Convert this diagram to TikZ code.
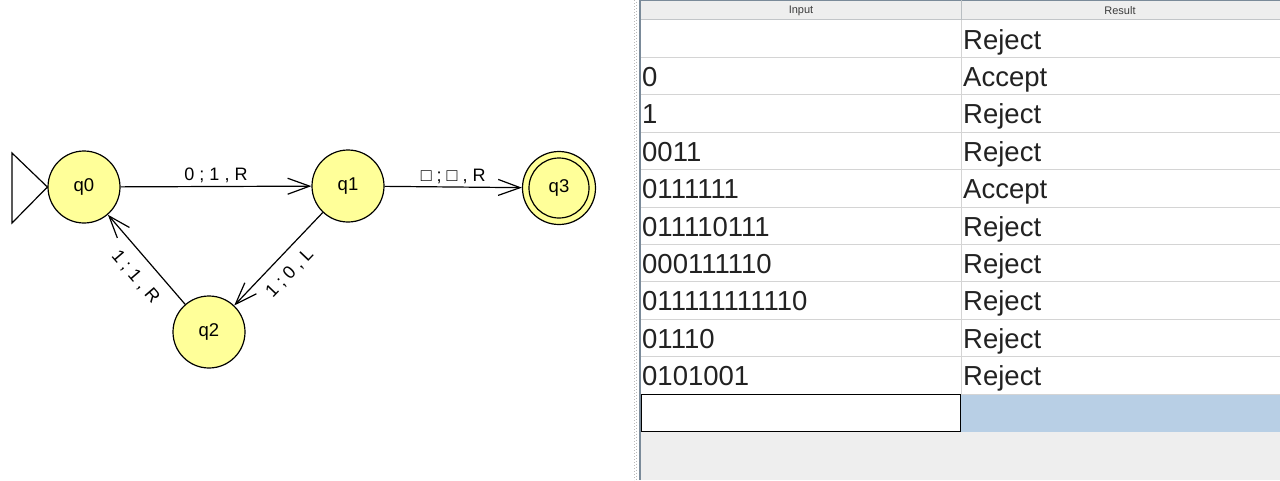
\documentclass[tikz,border=0pt]{standalone}
\usepackage{fontspec}
\setmainfont{Liberation Sans}
\usetikzlibrary{arrows.meta}
\definecolor{stfill}{RGB}{255,255,153}
\definecolor{panelgray}{RGB}{238,238,238}
\definecolor{frameblue}{RGB}{122,138,153}
\definecolor{gridgray}{RGB}{212,212,212}
\definecolor{hdrtext}{RGB}{60,60,60}
\definecolor{celltext}{RGB}{34,34,34}
\definecolor{selblue}{RGB}{184,207,229}
\definecolor{dotgray}{RGB}{185,185,185}
\begin{document}
\begin{tikzpicture}[x=1pt,y=-1pt,
  state/.style={circle, draw=black, line width=1.2pt, fill=stfill,
    minimum size=72pt, inner sep=0pt, font=\fontsize{18.5}{20}\selectfont},
  trans/.style={draw=black, line width=1.2pt,
    -{Straight Barb[length=22pt,width=16pt,line width=1.2pt]}},
  elabel/.style={font=\fontsize{18}{20}\selectfont, inner sep=3pt},
  hdr/.style={font=\fontsize{11}{12}\selectfont, text=hdrtext, inner sep=0pt},
  cell/.style={font=\fontsize{27.5}{30}\selectfont, text=celltext,
    inner sep=0pt, anchor=base west},
  gridline/.style={draw=gridgray, line width=1pt}]
\useasboundingbox (0,0) rectangle (1280,480);
\fill[white] (0,0) rectangle (1280,480);

% ---------- Turing machine ----------
\node[state] (q0) at (84,187) {q0};
\node[state] (q1) at (348,186) {q1};
\node[state] (q2) at (209,332) {q2};
\node[state, minimum size=73pt] (q3) at (559,188) {q3};
\draw[line width=1.2pt] (q3.center) circle (30);
\coordinate (initTop) at (12,153);
\coordinate (initBot) at (12,223);
\draw[line width=1.2pt, line join=miter] (initTop) -- (initBot) -- (q0.west) -- cycle;

\draw[trans] (q0) -- (q1) node[elabel, midway, above] {0 ; 1 , R};
\draw[trans] (q1) -- (q3) node[elabel, midway, above] {□ ; □ , R};
\draw[trans] (q1) -- (q2) node[elabel, pos=0.52, sloped, below=7pt] {1 ; 0 , L};
\draw[trans] (q2) -- (q0) node[elabel, pos=0.45, sloped, below=9pt] {1 ; 1 , R};

% ---------- splitter ----------
\draw[dotgray, line width=1pt, dash pattern=on 1pt off 2pt] (634,0) -- (634,480);
\draw[dotgray, line width=1pt, dash pattern=on 1pt off 2pt, dash phase=1.5pt] (636.5,0) -- (636.5,480);
\draw[frameblue, line width=2pt] (639.5,0) -- (639.5,480);

% ---------- test table ----------
\fill[panelgray] (641,0) rectangle (1280,19.5);
\draw[frameblue, line width=1pt] (641,0.5) -- (1280,0.5);
\draw[gridgray!80!frameblue, line width=1pt] (641,19.5) -- (1280,19.5);
\draw[gridgray!70!frameblue, line width=1pt] (961,0) -- (961,19.5);
\node[hdr] (hInput) at (801,11) {Input};
\node[hdr] (hResult) at (1120,11) {Result};

\fill[panelgray] (641,432) rectangle (1280,480);
\foreach \k in {1,...,10} {
  \draw[gridline] (641,20+37.4*\k) -- (1280,20+37.4*\k);
}
\draw[gridline] (961,20) -- (961,394);

\foreach \inp/\res [count=\i from 0] in
  {/Reject, 0/Accept, 1/Reject, 0011/Reject, 0111111/Accept,
   011110111/Reject, 000111110/Reject, 011111111110/Reject,
   01110/Reject, 0101001/Reject} {
  \node[cell] (in\i) at (642,49+37.4*\i) {\inp};
  \node[cell] (res\i) at (963,49+37.4*\i) {\res};
}

\fill[selblue] (961,394.5) rectangle (1280,431.5);
\draw[black, line width=1pt] (641.5,394.5) rectangle (960.5,431);
\end{tikzpicture}
\end{document}
